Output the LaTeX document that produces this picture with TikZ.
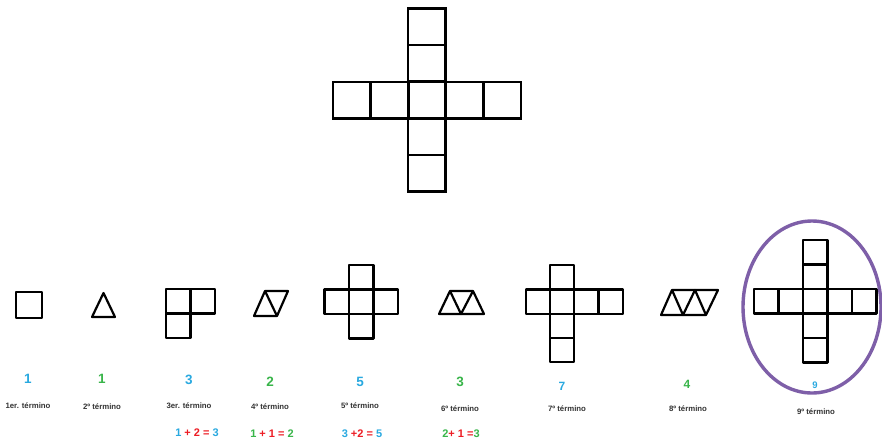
\documentclass[tikz,border=0pt]{standalone}
\usepackage{fontspec}
\setmainfont{Liberation Sans}
\usetikzlibrary{shapes.geometric}
\definecolor{nblue}{HTML}{29A9E0}
\definecolor{ngreen}{HTML}{39B54A}
\definecolor{nred}{HTML}{ED1C24}
\definecolor{tgray}{HTML}{333333}
\definecolor{ovpurple}{HTML}{7E5FA8}
\newcommand{\mysq}[3]{\draw[fig] (#1,#2) rectangle ++(#3,#3);}
\begin{document}
\begin{tikzpicture}[x=1pt,y=-1pt,
  bigfig/.style={line width=2.6pt,black,line join=miter},
  fig/.style={line width=2.2pt,black,line join=round},
  num/.style={font=\bfseries\fontsize{13.5}{13.5}\selectfont,inner sep=0pt},
  numsm/.style={font=\bfseries\fontsize{12}{12}\selectfont,inner sep=0pt},
  term/.style={font=\bfseries\fontsize{7.8}{7.8}\selectfont,text=tgray,inner sep=0pt},
  sumtxt/.style={font=\bfseries\fontsize{11}{11}\selectfont,inner sep=0pt}]
\useasboundingbox[fill=white] (0,0) rectangle (882,442);
% big cross
\foreach \i in {0,...,4}{
  \draw[bigfig] (333+\i*37.6,82) rectangle ++(37.6,36.6);
  \draw[bigfig] (408,8.5+\i*36.6) rectangle ++(37.6,36.6);
}
% 1st
\mysq{16}{292}{26}
% 2nd
\draw[fig] (92,317) -- (115,317) -- (103.5,293) -- cycle;
% 3rd
\mysq{166}{289}{24.5}
\mysq{190.5}{289}{24.5}
\mysq{166}{313.5}{24.5}
% 4th
\draw[fig] (254,316) -- (277,316) -- (288,291) -- (265,291) -- cycle;
\draw[fig] (265,291) -- (277,316);
% 5th
\mysq{349}{289.5}{24.5}
\mysq{324.5}{289.5}{24.5}
\mysq{373.5}{289.5}{24.5}
\mysq{349}{265}{24.5}
\mysq{349}{314}{24.5}
% 6th
\draw[fig] (439,314) -- (484,314) -- (473,291) -- (450,291) -- cycle;
\draw[fig] (450,291) -- (461,314) -- (473,291);
% 7th
\mysq{550}{265}{24.2}
\mysq{525.8}{289.5}{24.2}
\mysq{550}{289.5}{24.2}
\mysq{574.2}{289.5}{24.2}
\mysq{598.4}{289.5}{24.2}
\mysq{550}{313.7}{24.2}
\mysq{550}{337.9}{24.2}
% 8th
\draw[fig] (661,315) -- (706,315) -- (718,290) -- (672,290) -- cycle;
\draw[fig] (672,290) -- (683,315) -- (695,290) -- (706,315);
% 9th
\foreach \i in {0,...,4}{
  \mysq{754+\i*24.5}{289}{24.5}
  \mysq{803}{240+\i*24.5}{24.5}
}
\node[draw=ovpurple,line width=3.4pt,ellipse,minimum width=138pt,minimum height=172pt,inner sep=0pt] (oval) at (812,307) {};
% numbers
\node[num,text=nblue] (n1) at (28,379) {1};
\node[num,text=ngreen] (n2) at (102,379) {1};
\node[num,text=nblue] (n3) at (189,380) {3};
\node[num,text=ngreen] (n4) at (270,382) {2};
\node[num,text=nblue] (n5) at (360,382) {5};
\node[num,text=ngreen] (n6) at (460,382) {3};
\node[numsm,text=nblue] (n7) at (562,386) {7};
\node[numsm,text=ngreen] (n8) at (687,384) {4};
\node[num,font=\bfseries\fontsize{9.5}{9.5}\selectfont,text=nblue] (n9) at (815,385) {9};
% terms
\node[term] (t1) at (28,406) {1er. término};
\node[term] (t2) at (102,407) {2º término};
\node[term] (t3) at (189,406) {3er. término};
\node[term] (t4) at (270,407) {4º término};
\node[term] (t5) at (360,406) {5º término};
\node[term] (t6) at (460,409) {6º término};
\node[term] (t7) at (567,409) {7º término};
\node[term] (t8) at (688,409) {8º término};
\node[term] (t9) at (816,412) {9º término};
% sums
\node[sumtxt] (s3) at (197,433) {\textcolor{nblue}{1} \textcolor{nred}{+ 2 =} \textcolor{nblue}{3}};
\node[sumtxt] (s4) at (272,434) {\textcolor{ngreen}{1} \textcolor{nred}{+ 1 =} \textcolor{ngreen}{2}};
\node[sumtxt] (s5) at (362,434) {\textcolor{nblue}{3} \textcolor{nred}{+2 =} \textcolor{nblue}{5}};
\node[sumtxt] (s6) at (461,434) {\textcolor{ngreen}{2}\textcolor{nred}{+ 1 =}\textcolor{ngreen}{3}};
\end{tikzpicture}
\end{document}
